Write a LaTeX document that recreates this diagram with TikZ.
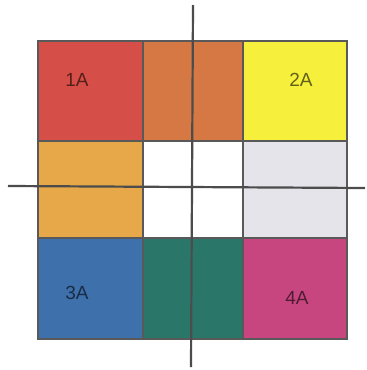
\documentclass[tikz,border=0pt]{standalone}
\usepackage{fontspec}
\setmainfont{Liberation Sans}
\begin{document}
\begin{tikzpicture}[x=1pt,y=-1pt,
  cell/.style={draw=black!65,line width=1.6pt,inner sep=0pt,outer sep=0pt,anchor=north west},
  lbl/.style={font=\fontsize{19}{19}\selectfont,text=black,text opacity=0.6},
  axis/.style={draw=black!70,line width=2.2pt}]
\definecolor{cA}{RGB}{214,78,72}
\definecolor{cB}{RGB}{214,120,68}
\definecolor{cC}{RGB}{246,240,60}
\definecolor{cD}{RGB}{230,168,72}
\definecolor{cE}{RGB}{255,255,255}
\definecolor{cF}{RGB}{228,228,234}
\definecolor{cG}{RGB}{62,112,172}
\definecolor{cH}{RGB}{42,118,104}
\definecolor{cI}{RGB}{200,70,128}
\useasboundingbox (0,0) rectangle (367,370);
\fill[white] (0,0) rectangle (367,370);
\node[cell,fill=cA,minimum width=105pt,minimum height=100pt] (c11) at (38,41) {};
\node[cell,fill=cB,minimum width=100pt,minimum height=100pt] (c12) at (143,41) {};
\node[cell,fill=cC,minimum width=104pt,minimum height=100pt] (c13) at (243,41) {};
\node[cell,fill=cD,minimum width=105pt,minimum height=97pt] (c21) at (38,141) {};
\node[cell,fill=cE,minimum width=100pt,minimum height=97pt] (c22) at (143,141) {};
\node[cell,fill=cF,minimum width=104pt,minimum height=97pt] (c23) at (243,141) {};
\node[cell,fill=cG,minimum width=105pt,minimum height=101pt] (c31) at (38,238) {};
\node[cell,fill=cH,minimum width=100pt,minimum height=101pt] (c32) at (143,238) {};
\node[cell,fill=cI,minimum width=104pt,minimum height=101pt] (c33) at (243,238) {};
\node[lbl] (l1) at (77,80) {1A};
\node[lbl] (l2) at (301,80) {2A};
\node[lbl] (l3) at (77,293) {3A};
\node[lbl] (l4) at (297,298) {4A};
\coordinate (vt) at (193,5);
\coordinate (vb) at (191,367);
\coordinate (hl) at (8,186);
\coordinate (hr) at (365,188);
\draw[axis] (vt) -- (vb);
\draw[axis] (hl) -- (hr);
\end{tikzpicture}
\end{document}
